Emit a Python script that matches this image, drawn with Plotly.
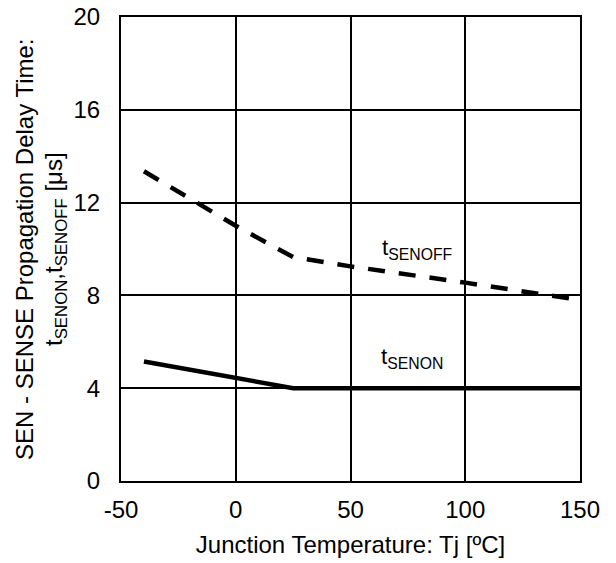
import plotly.graph_objects as go

temp_on = [-40, 25, 150]
t_senon = [5.15, 4.0, 4.0]

temp_off = [-40, 0, 25, 50, 100, 150]
t_senoff = [13.35, 11.0, 9.65, 9.25, 8.55, 7.8]

x_ticks = [-50, 0, 50, 100, 150]
x_labels = ["-50", "0", "50", "100", "150"]
y_ticks = [0, 4, 8, 12, 16, 20]

y_title_1 = "SEN - SENSE Propagation Delay Time:"
y_title_2 = "t<sub>SENON</sub>,t<sub>SENOFF</sub> [μs]"

FAM = "Liberation Sans, Arial, sans-serif"
tick_font = dict(family=FAM, size=24, color="black")
title_font = dict(family=FAM, size=24, color="black")
ann_font = dict(family=FAM, size=22.5, color="black")

fig = go.Figure()
fig.add_trace(go.Scatter(x=temp_off, y=t_senoff, mode="lines",
                         line=dict(color="black", width=4.5, dash="17px,14px")))
fig.add_trace(go.Scatter(x=temp_on, y=t_senon, mode="lines",
                         line=dict(color="black", width=4.5)))

fig.add_annotation(x=63, y=10.0, text="t<sub>SENOFF</sub>", showarrow=False,
                   xanchor="left", yanchor="middle", font=ann_font)
fig.add_annotation(x=62.3, y=5.3, text="t<sub>SENON</sub>", showarrow=False,
                   xanchor="left", yanchor="middle", font=ann_font)

# y-axis title as two rotated lines
fig.add_annotation(xref="paper", yref="paper", x=0, y=0.5, xshift=-97,
                   text=y_title_1, textangle=-90, showarrow=False,
                   xanchor="center", yanchor="middle", font=title_font)
fig.add_annotation(xref="paper", yref="paper", x=0, y=0.5, xshift=-66,
                   text=y_title_2, textangle=-90, showarrow=False,
                   xanchor="center", yanchor="middle", font=title_font)

fig.update_layout(
    width=616, height=563,
    margin=dict(l=121, r=36, t=17, b=82, autoexpand=False),
    paper_bgcolor="white", plot_bgcolor="white",
    showlegend=False, font=dict(family=FAM, size=24, color="black"),
    xaxis=dict(range=[-50, 150], tickvals=x_ticks, ticktext=x_labels,
               showgrid=True, gridcolor="black", automargin=False,
               gridwidth=2, showline=True, linecolor="black", linewidth=2, mirror=True,
               zeroline=False, ticks="", ticklabelstandoff=6, tickfont=tick_font,
               title=dict(text="Junction Temperature: Tj [ºC]", font=title_font, standoff=14)),
    yaxis=dict(range=[0, 20], tickvals=y_ticks, showgrid=True, gridcolor="black",
               gridwidth=2, showline=True, linecolor="black", linewidth=2, mirror=True,
               zeroline=False, ticks="", ticklabelstandoff=14, tickfont=tick_font,
               automargin=False),
)

fig.write_html("out.html")
